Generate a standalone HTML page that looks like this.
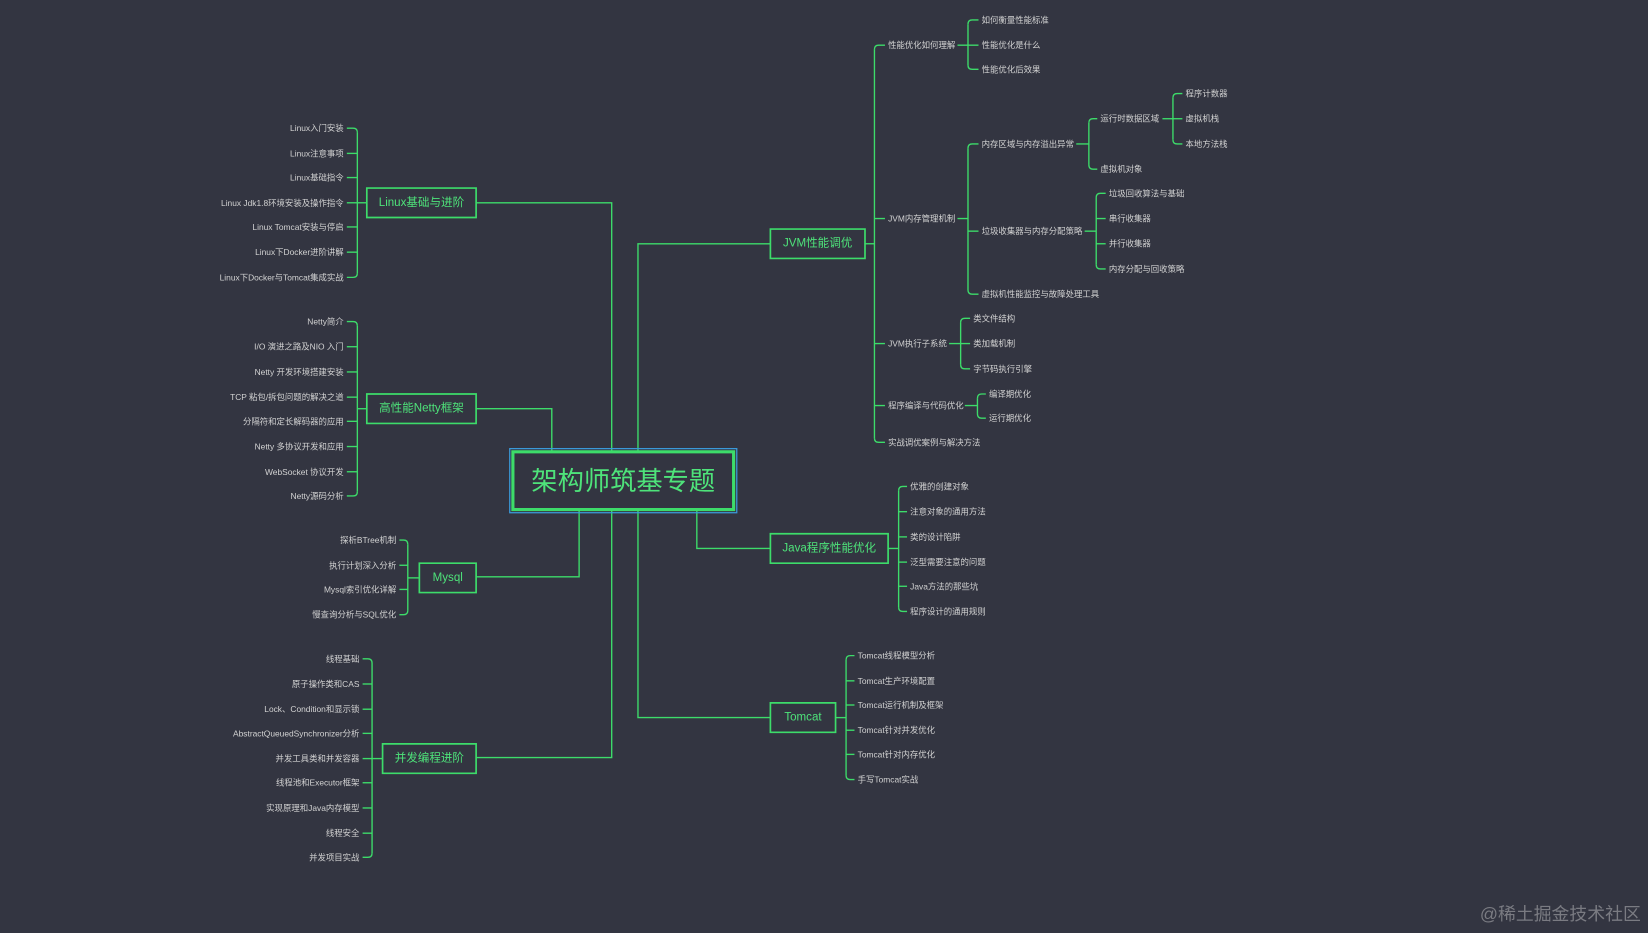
<!DOCTYPE html>
<html><head><meta charset="utf-8"><style>
html,body{margin:0;padding:0;background:#333541;width:1648px;height:933px;overflow:hidden}
svg{display:block}
text{font-family:"Liberation Sans","Noto Sans CJK SC",sans-serif}
</style></head><body>
<svg id="s" width="1648" height="933" viewBox="0 0 1568 888" preserveAspectRatio="none" xmlns="http://www.w3.org/2000/svg">
<rect width="1568" height="888" fill="#333541"/>
<g id="g" fill="none" stroke="#3ddc6a" stroke-width="1.3"></g>
<g id="t"></g>
</svg>
<script>
var g=document.getElementById('g'),t=document.getElementById('t'),NS='http://www.w3.org/2000/svg';
function P(d,w){var p=document.createElementNS(NS,'path');p.setAttribute('d',d);if(w)p.setAttribute('stroke-width',w);g.appendChild(p);}
function T(s,x,y,opt){opt=opt||{};var e=document.createElementNS(NS,'text');e.textContent=s;e.setAttribute('x',x);e.setAttribute('y',y);e.setAttribute('dominant-baseline','central');e.setAttribute('font-size',opt.fs||8);e.setAttribute('fill',opt.c||'#d2d2d2');if(opt.a)e.setAttribute('text-anchor',opt.a);if(opt.b)e.setAttribute('font-weight','bold');t.appendChild(e);}
function box(x1,y1,x2,y2,s,fs){P('M'+x1+','+y1+'H'+x2+'V'+y2+'H'+x1+'Z',1.6);T(s,(x1+x2)/2,(y1+y2)/2,{fs:fs||11,c:'#4ee37a',a:'middle'});}
// side: 1 right, -1 left
function grp(side,px,py,bx,tx,items){
  P('M'+px+','+py+'H'+bx);
  var ys=items.map(function(i){return i[1]}),y0=ys[0],yn=ys[ys.length-1],r=4,d=side;
  if(ys.length>1)P('M'+bx+','+(y0+r)+'V'+(yn-r));
  items.forEach(function(it,k){var y=it[1],end=tx-3*d;
    if(ys.length>1&&k==0)P('M'+bx+','+(y+r)+'Q'+bx+','+y+' '+(bx+r*d)+','+y+'H'+end);
    else if(ys.length>1&&k==ys.length-1)P('M'+bx+','+(y-r)+'Q'+bx+','+y+' '+(bx+r*d)+','+y+'H'+end);
    else P('M'+bx+','+y+'H'+end);
    T(it[0],tx,y,{a:d<0?'end':'start'});});
}
// trunks
P('M582,430V193H453');P('M525,430V389H453');P('M551,485V549H453');P('M582,485V721H453');
P('M607,430V232H733');P('M663,485V522H733');P('M607,485V683H733');
// center
var c=document.createElementNS(NS,'rect');c.setAttribute('x',485);c.setAttribute('y',427);c.setAttribute('width',216);c.setAttribute('height',61);c.setAttribute('stroke','#3a9ad9');c.setAttribute('stroke-width',1.2);c.setAttribute('fill','none');g.appendChild(c);
P('M488,430H698V485H488Z',3);
T('架构师筑基专题',593,458,{fs:25,c:'#4ee37a',a:'middle'});
// left nodes
box(349,179,453,207,'Linux基础与进阶');
grp(-1,349,193,340,327,[['Linux入门安装',122],['Linux注意事项',146],['Linux基础指令',169],['Linux Jdk1.8环境安装及操作指令',193],['Linux Tomcat安装与停启',216],['Linux下Docker进阶讲解',240],['Linux下Docker与Tomcat集成实战',264]]);
box(349,375,453,403,'高性能Netty框架');
grp(-1,349,389,340,327,[['Netty简介',306],['I/O 演进之路及NIO 入门',330],['Netty 开发环境搭建安装',354],['TCP 粘包/拆包问题的解决之道',378],['分隔符和定长解码器的应用',401],['Netty 多协议开发和应用',425],['WebSocket 协议开发',449],['Netty源码分析',472]]);
box(399,536,453,564,'Mysql');
grp(-1,399,550,388,377,[['探析BTree机制',514],['执行计划深入分析',538],['Mysql索引优化详解',561],['慢查询分析与SQL优化',585]]);
box(364,708,453,736,'并发编程进阶');
grp(-1,364,722,354,342,[['线程基础',627],['原子操作类和CAS',651],['Lock、Condition和显示锁',675],['AbstractQueuedSynchronizer分析',698],['并发工具类和并发容器',722],['线程池和Executor框架',745],['实现原理和Java内存模型',769],['线程安全',793],['并发项目实战',816]]);
// right
box(733,218,823,246,'JVM性能调优');
grp(1,823,232,832,845,[['性能优化如何理解',43],['JVM内存管理机制',208],['JVM执行子系统',327],['程序编译与代码优化',386],['实战调优案例与解决方法',421]]);
grp(1,911,43,921,934,[['如何衡量性能标准',19],['性能优化是什么',43],['性能优化后效果',66]]);
grp(1,911,208,921,934,[['内存区域与内存溢出异常',137],['垃圾收集器与内存分配策略',220],['虚拟机性能监控与故障处理工具',280]]);
grp(1,1024,137,1036,1047,[['运行时数据区域',113],['虚拟机对象',161]]);
grp(1,1106,113,1116,1128,[['程序计数器',89],['虚拟机栈',113],['本地方法栈',137]]);
grp(1,1032,220,1043,1055,[['垃圾回收算法与基础',184],['串行收集器',208],['并行收集器',232],['内存分配与回收策略',256]]);
grp(1,903,327,914,926,[['类文件结构',303],['类加载机制',327],['字节码执行引擎',351]]);
grp(1,918,386,930,941,[['编译期优化',375],['运行期优化',398]]);
box(733,508,845,536,'Java程序性能优化');
grp(1,845,522,855,866,[['优雅的创建对象',463],['注意对象的通用方法',487],['类的设计陷阱',511],['泛型需要注意的问题',535],['Java方法的那些坑',558],['程序设计的通用规则',582]]);
box(733,669,795,697,'Tomcat');
grp(1,795,683,805,816,[['Tomcat线程模型分析',624],['Tomcat生产环境配置',648],['Tomcat运行机制及框架',671],['Tomcat针对并发优化',695],['Tomcat针对内存优化',718],['手写Tomcat实战',742]]);
T('@稀土掘金技术社区',1408,870,{fs:17,c:'#7a7b82'});
</script>
</body></html>
